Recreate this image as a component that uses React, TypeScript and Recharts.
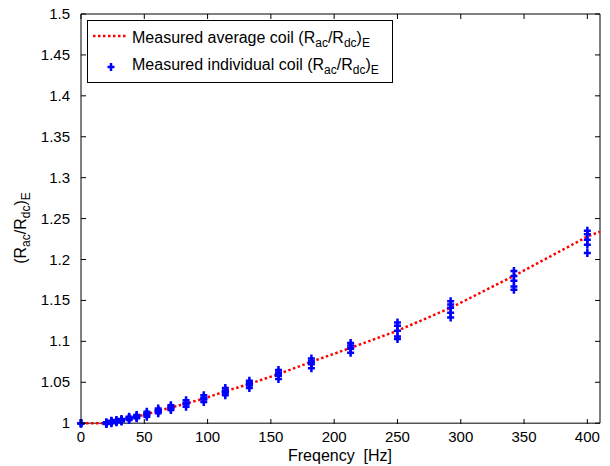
import React from "react";
import {
  ComposedChart,
  Line,
  Scatter,
  XAxis,
  YAxis,
  ReferenceArea,
  Legend,
} from "recharts";

// ---- data ----
const frequencies = [0, 20, 24, 28, 32, 38, 44, 52, 61, 71, 83, 97, 114, 133, 156, 182, 213, 250, 292, 342, 400];

const averageFreqs = [0, 20, 24, 28, 32, 38, 44, 52, 61, 71, 83, 97, 114, 133, 156, 182, 213, 250, 292, 342, 400, 410];
const averageRatio = [1.0, 1.0, 1.002, 1.003, 1.004, 1.006, 1.008, 1.011, 1.015, 1.019, 1.024, 1.03, 1.039, 1.048, 1.06, 1.075, 1.092, 1.113, 1.141, 1.18, 1.228, 1.234];

const coil1 = [1.0, 1.001, 1.003, 1.004, 1.005, 1.008, 1.01, 1.014, 1.018, 1.022, 1.028, 1.034, 1.043, 1.052, 1.065, 1.079, 1.098, 1.123, 1.149, 1.186, 1.235];
const coil2 = [1.0, 1.0, 1.002, 1.003, 1.004, 1.007, 1.009, 1.012, 1.016, 1.02, 1.025, 1.031, 1.04, 1.049, 1.062, 1.076, 1.095, 1.119, 1.145, 1.18, 1.231];
const coil3 = [1.0, 1.0, 1.001, 1.002, 1.003, 1.006, 1.007, 1.01, 1.014, 1.018, 1.023, 1.029, 1.037, 1.046, 1.058, 1.072, 1.091, 1.113, 1.141, 1.174, 1.224];
const coil4 = [1.0, 0.999, 1.0, 1.001, 1.002, 1.004, 1.006, 1.008, 1.012, 1.016, 1.02, 1.026, 1.034, 1.043, 1.054, 1.067, 1.086, 1.106, 1.135, 1.167, 1.218];
const coil5 = [1.0, 1.0, 1.001, 1.002, 1.003, 1.005, 1.008, 1.011, 1.015, 1.019, 1.024, 1.03, 1.038, 1.047, 1.06, 1.074, 1.092, 1.103, 1.129, 1.163, 1.208];
const coils = [coil1, coil2, coil3, coil4, coil5];

const xTicks = [0, 50, 100, 150, 200, 250, 300, 350, 400];
const yTicks = [1, 1.05, 1.1, 1.15, 1.2, 1.25, 1.3, 1.35, 1.4, 1.45, 1.5];

const averageData = averageFreqs.map((f, i) => ({ f, r: averageRatio[i] }));
const individualData = coils.flatMap((c) => frequencies.map((f, i) => ({ f, r: c[i] })));

// ---- layout ----
const W = 610;
const H = 466;
const PLOT_LEFT = 81;
const PLOT_TOP = 14;
const PLOT_RIGHT = 600;
const PLOT_BOTTOM = 424;
const FONT = "'Liberation Sans', Arial, Helvetica, sans-serif";
const TICK_LEN = 5;

const XTick = (props: any) => {
  const x = props.payload.coordinate;
  return (
    <g>
      <line x1={x} x2={x} y1={PLOT_BOTTOM} y2={PLOT_BOTTOM - TICK_LEN} stroke="#000" />
      <line x1={x} x2={x} y1={PLOT_TOP} y2={PLOT_TOP + TICK_LEN} stroke="#000" />
      <text x={x} y={PLOT_BOTTOM + 18} textAnchor="middle" fontSize={15} fontFamily={FONT} fill="#000">
        {props.payload.value}
      </text>
    </g>
  );
};

const YTick = (props: any) => {
  const y = props.payload.coordinate;
  const v = Number(Number(props.payload.value).toFixed(2));
  return (
    <g>
      <line x1={PLOT_LEFT} x2={PLOT_LEFT + TICK_LEN} y1={y} y2={y} stroke="#000" />
      <line x1={PLOT_RIGHT} x2={PLOT_RIGHT - TICK_LEN} y1={y} y2={y} stroke="#000" />
      <text x={PLOT_LEFT - 11} y={y + 5} textAnchor="end" fontSize={15} fontFamily={FONT} fill="#000">
        {String(v)}
      </text>
    </g>
  );
};

const PlusShape = (props: any) => {
  const { cx, cy } = props;
  const s = 3.5;
  return (
    <path
      d={`M${cx - s},${cy}L${cx + s},${cy}M${cx},${cy - s - 0.5}L${cx},${cy + s + 0.5}`}
      stroke="#0000ff"
      strokeWidth={2.5}
      fill="none"
    />
  );
};

const RatioText = ({ x, y, prefix }: { x: number; y: number; prefix?: string }) => (
  <text x={x} y={y} fontSize={16} fontFamily={FONT} fill="#000">
    {prefix}
    (R
    <tspan dy={4} fontSize={12}>ac</tspan>
    <tspan dy={-4}>/R</tspan>
    <tspan dy={4} fontSize={12}>dc</tspan>
    <tspan dy={-4}>)</tspan>
    <tspan dy={4} fontSize={12}>E</tspan>
  </text>
);

const LegendBox = () => (
  <svg width={306} height={63} style={{ display: "block" }}>
    <rect x={0.5} y={0.5} width={305} height={62} fill="#fff" stroke="#000" strokeWidth={1} />
    <line x1={6} x2={41} y1={16} y2={16} stroke="#ff0000" strokeWidth={2.5} strokeDasharray="2.5 2.5" />
    <PlusShape cx={24} cy={47} />
    <RatioText x={45} y={23} prefix="Measured average coil " />
    <RatioText x={45} y={50} prefix="Measured individual coil " />
  </svg>
);

const YLabel = () => {
  const cx = 26;
  const cy = 228;
  return (
    <text
      x={cx}
      y={cy}
      transform={`rotate(-90, ${cx}, ${cy})`}
      textAnchor="middle"
      fontSize={16}
      fontFamily={FONT}
      fill="#000"
    >
      (R
      <tspan dy={4} fontSize={12}>ac</tspan>
      <tspan dy={-4}>/R</tspan>
      <tspan dy={4} fontSize={12}>dc</tspan>
      <tspan dy={-4}>)</tspan>
      <tspan dy={4} fontSize={12}>E</tspan>
    </text>
  );
};

const XLabel = () => (
  <text x={340} y={461} textAnchor="middle" fontSize={16} fontFamily={FONT} fill="#000">
    {"Freqency\u00a0 [Hz]"}
  </text>
);

export default function App() {
  return (
    <div style={{ position: "absolute", left: 0, top: 0, width: W, height: H, background: "#fff" }}>
      <ComposedChart
        width={W}
        height={H}
        margin={{ top: PLOT_TOP, right: W - PLOT_RIGHT, bottom: 12, left: 0 }}
      >
        <XAxis
          type="number"
          dataKey="f"
          domain={[0, 410]}
          ticks={xTicks}
          height={30}
          tickSize={0}
          tickMargin={0}
          tickLine={false}
          axisLine={false}
          tick={<XTick />}
          interval={0}
          label={<XLabel />}
        />
        <YAxis
          type="number"
          dataKey="r"
          domain={[1, 1.5]}
          ticks={yTicks}
          width={PLOT_LEFT}
          tickSize={0}
          tickMargin={0}
          tickLine={false}
          axisLine={false}
          tick={<YTick />}
          interval={0}
          label={<YLabel />}
        />
        <ReferenceArea x1={0} x2={410} y1={1} y2={1.5} fill="none" stroke="#000" strokeWidth={1} ifOverflow="visible" />
        <Line
          data={averageData}
          dataKey="r"
          type="linear"
          stroke="#ff0000"
          strokeWidth={2.5}
          strokeDasharray="2.5 2.5"
          dot={false}
          activeDot={false}
          isAnimationActive={false}
        />
        <Scatter data={individualData} dataKey="r" shape={<PlusShape />} isAnimationActive={false} />
        <Legend
          layout="horizontal"
          verticalAlign="middle"
          align="center"
          content={() => <LegendBox />}
          wrapperStyle={{ position: "absolute", left: 87, top: 20, width: 306, height: 63 }}
        />
      </ComposedChart>
    </div>
  );
}
